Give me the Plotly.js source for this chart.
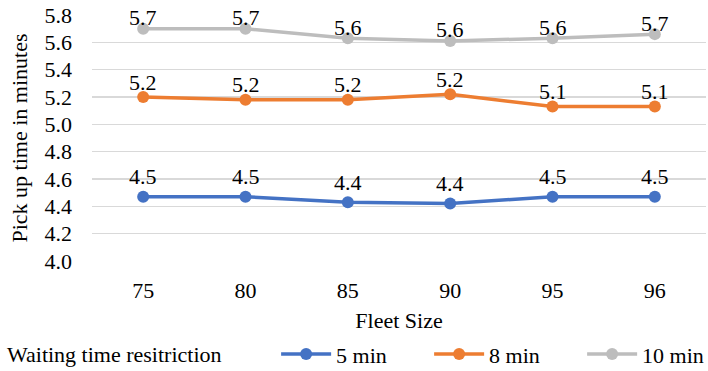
<!DOCTYPE html>
<html>
<head>
<meta charset="utf-8">
<script src="https://cdn.plot.ly/plotly-3.0.1.min.js"></script>
<style>
html,body{margin:0;padding:0;background:#fff;overflow:hidden}
#chart{width:708px;height:371px}
#chart text{font-family:"Liberation Serif","Times New Roman",serif !important}
</style>
</head>
<body>
<div id="chart"></div>
<script>
var fleetSizes = ["75", "80", "85", "90", "95", "96"];
var wait5 = [4.47, 4.47, 4.43, 4.42, 4.47, 4.47];
var wait8 = [5.20, 5.18, 5.18, 5.22, 5.13, 5.13];
var wait10 = [5.70, 5.70, 5.63, 5.61, 5.63, 5.66];
var seriesNames = ["5 min", "8 min", "10 min"];
var yTicks = [4.0, 4.2, 4.4, 4.6, 4.8, 5.0, 5.2, 5.4, 5.6, 5.8];

var colors = ["#4472C4", "#ED7D31", "#BDBDBD"];
var labelShift = [20, 15, 11];
var allSeries = [wait5, wait8, wait10];
var FONT = "Liberation Serif";
var FS = 22;

var traces = allSeries.map(function (vals, i) {
  return {
    type: "scatter",
    mode: "lines+markers",
    x: fleetSizes,
    y: vals,
    name: seriesNames[i],
    line: {color: colors[i], width: 3.5},
    marker: {color: colors[i], size: 12},
    cliponaxis: false
  };
});

var annotations = [];
allSeries.forEach(function (vals, i) {
  vals.forEach(function (v, j) {
    annotations.push({
      xref: "x", yref: "y",
      x: j, y: v,
      text: v.toFixed(1),
      showarrow: false,
      xanchor: "center", yanchor: "middle",
      yshift: labelShift[i],
      font: {family: FONT, size: FS, color: "#000"}
    });
  });
});
annotations.push({
  text: "Waiting time resitriction",
  xref: "paper", yref: "paper",
  x: -0.142, xanchor: "left",
  y: -0.382, yanchor: "middle",
  showarrow: false,
  font: {family: FONT, size: FS, color: "#000"}
});

var layout = {
  width: 708, height: 371,
  margin: {l: 92, r: 2, t: 15, b: 110, autoexpand: false},
  paper_bgcolor: "#fff", plot_bgcolor: "#fff",
  font: {family: FONT, size: FS, color: "#000"},
  showlegend: true,
  xaxis: {
    type: "category",
    range: [-0.5, 5.5],
    showgrid: false, zeroline: false, showline: false,
    ticks: "", ticklabelstandoff: 14,
    tickfont: {family: FONT, size: FS, color: "#000"},
    title: {text: "Fleet Size", font: {family: FONT, size: FS, color: "#000"}, standoff: 16},
    automargin: false
  },
  yaxis: {
    range: [4.0, 5.8],
    tickvals: yTicks,
    ticktext: yTicks.map(function (v) { return v.toFixed(1); }),
    showgrid: true, gridcolor: "#D9D9D9", gridwidth: 1.5,
    zeroline: false, showline: false, ticks: "",
    ticklabelstandoff: 19,
    tickfont: {family: FONT, size: FS, color: "#000"},
    title: {text: "Pick up time in minutes", font: {family: FONT, size: FS, color: "#000"}, standoff: 10},
    automargin: false
  },
  legend: {
    orientation: "h",
    xref: "container", yref: "container",
    x: 0.39, xanchor: "left",
    y: 0.045, yanchor: "middle",
    font: {family: FONT, size: FS, color: "#000"},
    entrywidth: 88, entrywidthmode: "pixels",
    itemwidth: 50,
    tracegroupgap: 0,
    bgcolor: "rgba(0,0,0,0)"
  },
  annotations: annotations
};

Plotly.newPlot("chart", traces, layout, {displayModeBar: false, staticPlot: true});
</script>
</body>
</html>
